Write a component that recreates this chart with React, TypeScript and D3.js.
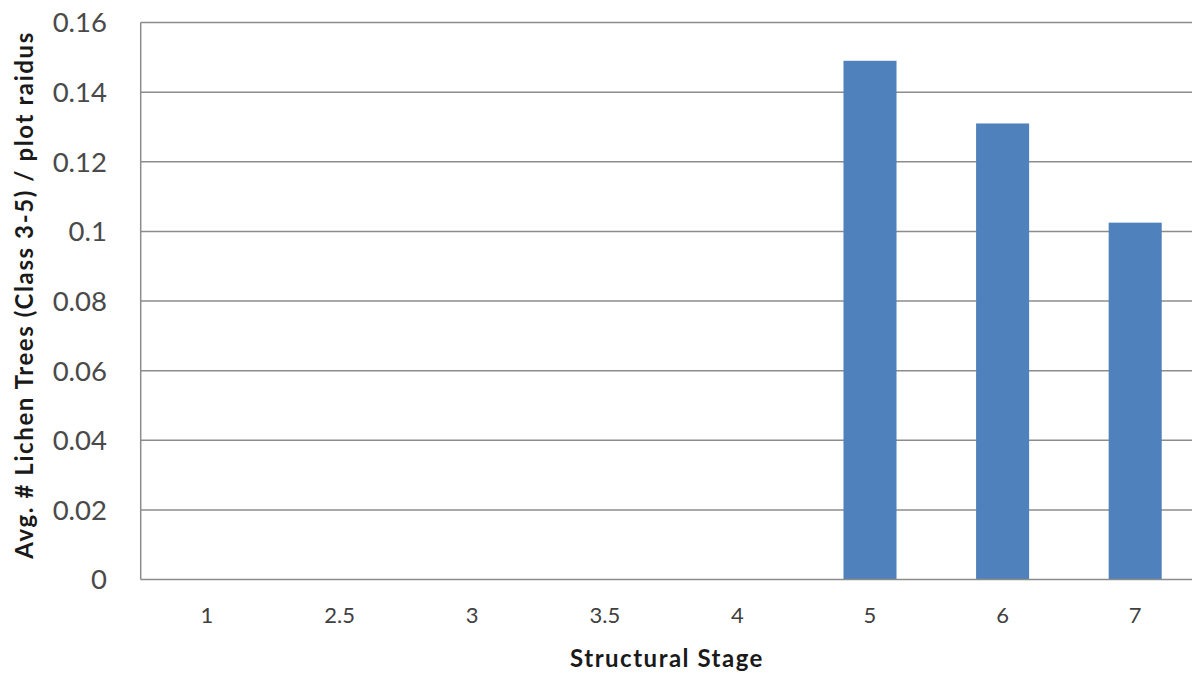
import React, { useEffect, useRef } from "react";
import * as d3 from "d3";

// Structural stage categories and mean lichen tree counts per plot radius
const stages: string[] = ["1", "2.5", "3", "3.5", "4", "5", "6", "7"];
const lichenTrees: number[] = [0, 0, 0, 0, 0, 0.149, 0.131, 0.1025];
const yTicks: number[] = [0, 0.02, 0.04, 0.06, 0.08, 0.1, 0.12, 0.14, 0.16];

const WIDTH = 1192;
const HEIGHT = 675;
const FONT = "Lato, 'Open Sans', sans-serif";

export default function App() {
  const ref = useRef<SVGSVGElement | null>(null);

  useEffect(() => {
    const svg = d3.select(ref.current);
    svg.selectAll("*").remove();

    const left = 140.7;
    const right = 1201.5;
    const top = 22.5;
    const bottom = 579.5;

    const x = d3
      .scaleBand<string>()
      .domain(stages)
      .range([left, right])
      .paddingInner(0.6)
      .paddingOuter(0.3);

    const y = d3.scaleLinear().domain([0, 0.16]).range([bottom, top]);

    // horizontal gridlines
    svg
      .append("g")
      .selectAll("line")
      .data(yTicks.filter((t) => t > 0))
      .join("line")
      .attr("x1", left)
      .attr("x2", WIDTH)
      .attr("y1", (d) => y(d))
      .attr("y2", (d) => y(d))
      .attr("stroke", "#8c8c8c")
      .attr("stroke-width", 1.5);

    // bars
    svg
      .append("g")
      .selectAll("rect")
      .data(stages.map((s, i) => ({ s, v: lichenTrees[i] })))
      .join("rect")
      .attr("x", (d) => x(d.s) as number)
      .attr("width", x.bandwidth())
      .attr("y", (d) => y(d.v))
      .attr("height", (d) => y(0) - y(d.v))
      .attr("fill", "#4f81bd");

    // axis lines
    svg
      .append("line")
      .attr("x1", left)
      .attr("x2", left)
      .attr("y1", top)
      .attr("y2", bottom)
      .attr("stroke", "#8c8c8c")
      .attr("stroke-width", 1.5);
    svg
      .append("line")
      .attr("x1", left)
      .attr("x2", WIDTH)
      .attr("y1", bottom)
      .attr("y2", bottom)
      .attr("stroke", "#8c8c8c")
      .attr("stroke-width", 1.5);

    // y tick labels
    svg
      .append("g")
      .selectAll("text")
      .data(yTicks)
      .join("text")
      .attr("x", 107)
      .attr("y", (d) => y(d))
      .attr("dy", "0.36em")
      .attr("text-anchor", "end")
      .attr("font-family", FONT)
      .attr("font-size", 27.5)
      .attr("fill", "#4a4a4a")
      .text((d) => d3.format("~g")(d));

    // x tick labels
    svg
      .append("g")
      .selectAll("text")
      .data(stages)
      .join("text")
      .attr("x", (d) => (x(d) as number) + x.bandwidth() / 2)
      .attr("y", 623)
      .attr("text-anchor", "middle")
      .attr("font-family", FONT)
      .attr("font-size", 22)
      .attr("fill", "#404040")
      .text((d) => d);

    // axis titles
    svg
      .append("text")
      .attr("x", 667)
      .attr("y", 667)
      .attr("text-anchor", "middle")
      .attr("font-family", FONT)
      .attr("font-weight", "bold")
      .attr("font-size", 24)
      .attr("letter-spacing", 1.5)
      .attr("fill", "#1a1a1a")
      .text("Structural Stage");

    svg
      .append("text")
      .attr("transform", `translate(33, 295) rotate(-90)`)
      .attr("text-anchor", "middle")
      .attr("font-family", FONT)
      .attr("font-weight", "bold")
      .attr("font-size", 24)
      .attr("letter-spacing", 1.6)
      .attr("fill", "#1a1a1a")
      .text("Avg. # Lichen Trees (Class 3-5) / plot raidus");
  }, []);

  return (
    <svg
      ref={ref}
      width={WIDTH}
      height={HEIGHT}
      style={{ position: "fixed", left: 0, top: 0, background: "#fff" }}
    />
  );
}
